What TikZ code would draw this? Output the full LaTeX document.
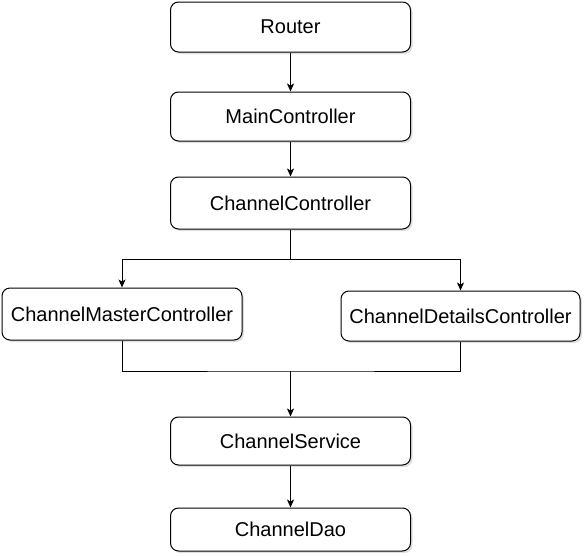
\documentclass[tikz,border=0pt]{standalone}
\usepackage{fontspec}
\setmainfont{Liberation Sans}
\usetikzlibrary{arrows.meta, shadows}

\begin{document}
\begin{tikzpicture}[x = 1pt, y = -1pt, line width = 1pt,
    box/.style = {draw, rounded corners = 8pt, fill = white, minimum width = 240pt,
                  minimum height = 50pt, inner sep = 0pt, font = \fontsize{20}{24}\selectfont,
                  drop shadow = {opacity = .25, shadow xshift = 2pt, shadow yshift = -2pt}},
    link/.style = {-{Stealth[length = 8pt, width = 7pt, inset = 2pt]}}]

            \useasboundingbox (0,0) rectangle (584,555);

            \node [box] (router)  at (290.5, 27)  {Router};
            \node [box, minimum height = 49pt] (main) at (290.5, 116.5) {MainController};
            \node [box, minimum height = 52pt] (channel) at (290.5, 203) {ChannelController};
            \node [box, minimum height = 52pt] (master) at (122, 314) {ChannelMasterController};
            \node [box, minimum width = 239pt] (details) at (460.5, 316) {ChannelDetailsController};
            \node [box, minimum height = 48pt] (service) at (290.5, 441) {ChannelService};
            \node [box, minimum height = 43pt] (dao) at (290.5, 529.5) {ChannelDao};

            \coordinate (split) at (290.5, 259);
            \coordinate (join) at (290.5, 371);

            \draw [link] (router) -- (main);
            \draw [link] (main) -- (channel);
            \draw (channel) -- (split);
            \foreach \t in {master, details} {
              \draw [link] (split) -| (\t);
            }
            \draw (master.south) |- (join) -| (details.south);
            \draw [link] (join) -- (service);
            \draw [link] (service) -- (dao);
            \end{tikzpicture}
\end{document}
